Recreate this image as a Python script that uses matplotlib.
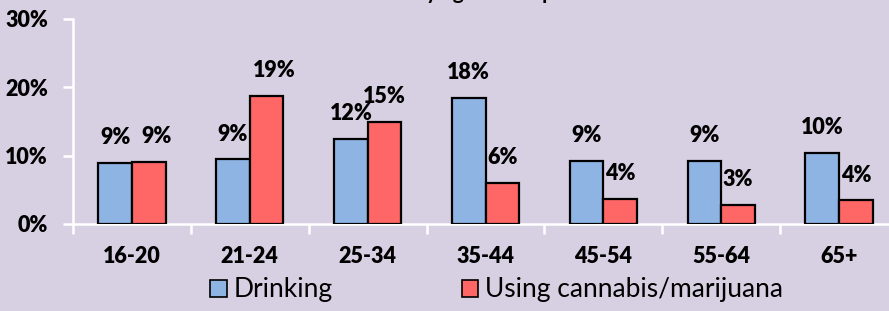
import matplotlib
matplotlib.use("Agg")
import matplotlib.pyplot as plt
from matplotlib.patches import Patch
from matplotlib.ticker import FixedLocator, PercentFormatter, NullFormatter

categories = ["16-20", "21-24", "25-34", "35-44", "45-54", "55-64", "65+"]
drinking = [8.95, 9.45, 12.45, 18.4, 9.2, 9.2, 10.4]
cannabis = [9.1, 18.7, 14.9, 6.0, 3.7, 2.8, 3.5]
drinking_labels = ["9%", "9%", "12%", "18%", "9%", "9%", "10%"]
cannabis_labels = ["9%", "19%", "15%", "6%", "4%", "3%", "4%"]
series_names = ["Drinking", "Using cannabis/marijuana"]
title_text = "Drove after use by age and impairment"

BG = "#D7CFE2"
BLUE = "#8EB4E3"
RED = "#FF6666"
FONT = "Lato"
WT = 800
LSIZE = 15.5

fig = plt.figure(figsize=(8.89, 3.11), dpi=100, facecolor=BG)
ax = fig.add_axes([73/889, (311-224)/311, (898-73)/889, (224-18.5)/311])
ax.set_facecolor(BG)

x = list(range(len(categories)))
w = 0.285
b1 = ax.bar([i - w/2 for i in x], drinking, width=w, color=BLUE, edgecolor="black", linewidth=1.6, zorder=3)
b2 = ax.bar([i + w/2 for i in x], cannabis, width=w, color=RED, edgecolor="black", linewidth=1.6, zorder=3)

nudge = {("c", 0): 8, ("c", 1): 8}
for key, bars, labels in (("d", b1, drinking_labels), ("c", b2, cannabis_labels)):
    for i, (rect, lab) in enumerate(zip(bars, labels)):
        ax.annotate(lab, (rect.get_x() + rect.get_width()/2, rect.get_height()),
                    xytext=(nudge.get((key, i), 0) * 0.72, 18), textcoords="offset points",
                    ha="center", va="center", fontsize=LSIZE, fontweight=WT, family=FONT)

ax.set_xlim(-0.5, len(categories) - 0.5)
ax.set_ylim(0, 30)
ax.yaxis.set_major_locator(FixedLocator([0, 10, 20, 30]))
ax.yaxis.set_major_formatter(PercentFormatter(decimals=0))
ax.xaxis.set_major_locator(FixedLocator([i - 0.5 for i in range(len(categories) + 1)]))
ax.xaxis.set_major_formatter(NullFormatter())
ax.xaxis.set_minor_locator(FixedLocator(x))
ax.set_xticklabels(categories, minor=True)

for s in ["top", "right"]:
    ax.spines[s].set_visible(False)
for s in ["left", "bottom"]:
    ax.spines[s].set_color("white")
    ax.spines[s].set_linewidth(1.8)
ax.tick_params(axis="y", which="major", length=7, width=1.8, color="white", pad=11,
               labelsize=LSIZE)
ax.tick_params(axis="x", which="major", length=7, width=1.8, color="white")
ax.tick_params(axis="x", which="minor", length=0, pad=16, labelsize=LSIZE)
for t in ax.get_yticklabels() + ax.get_xticklabels(minor=True):
    t.set_fontweight(WT)
    t.set_family(FONT)

handles = [Patch(facecolor=BLUE, edgecolor="black", linewidth=1.2),
           Patch(facecolor=RED, edgecolor="black", linewidth=1.2)]
fig.legend(handles, series_names, loc="center", bbox_to_anchor=(496.5/889, 0.068), ncol=2,
           frameon=False, prop={"family": FONT, "size": 19}, handlelength=0.62,
           handleheight=0.62, handletextpad=0.25, columnspacing=4.9,
           borderpad=0, borderaxespad=0)

fig.text(0.5, 1.004, title_text, ha="center", va="baseline", fontsize=15,
         fontweight="bold", family=FONT)

fig.savefig("out.png", dpi=100, facecolor=BG)
